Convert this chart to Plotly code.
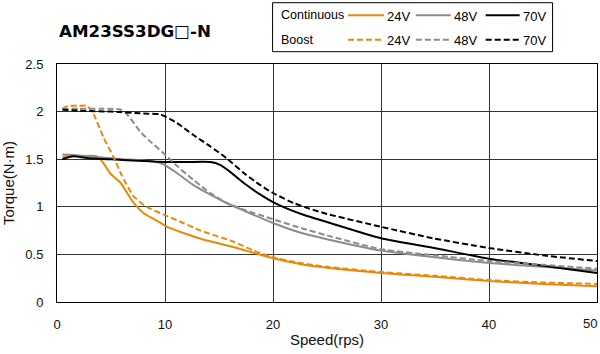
import plotly.graph_objects as go

# ---- data ----
x_24c = [0.5, 1, 2, 3, 3.7, 4.3, 4.9, 5.9, 6.5, 7.1, 8.0, 9.3, 10.2, 11.7, 13.3, 16.3, 20, 22.5, 25, 30, 35, 40, 45, 50]
y_24c = [1.52, 1.53, 1.53, 1.535, 1.53, 1.46, 1.355, 1.25, 1.145, 1.04, 0.935, 0.85, 0.79, 0.725, 0.665, 0.578, 0.46, 0.40, 0.36, 0.305, 0.265, 0.22, 0.19, 0.165]

x_24b = [0.5, 1, 2, 2.8, 3.4, 4.3, 5.25, 6.0, 7.1, 8.3, 9.9, 11.7, 13.3, 16.3, 18.2, 20, 22.5, 25, 30, 35, 40, 45, 50]
y_24b = [2.03, 2.06, 2.06, 2.06, 1.97, 1.73, 1.52, 1.33, 1.11, 1.0, 0.917, 0.83, 0.75, 0.635, 0.54, 0.47, 0.41, 0.37, 0.315, 0.275, 0.23, 0.205, 0.19]

x_48c = [0.5, 2, 4, 6, 7.7, 9.6, 11.1, 12.6, 14.2, 15.7, 17.3, 20, 22.5, 25, 30, 35, 40, 45, 50]
y_48c = [1.55, 1.54, 1.52, 1.50, 1.49, 1.46, 1.355, 1.23, 1.127, 1.04, 0.96, 0.83, 0.73, 0.66, 0.54, 0.47, 0.41, 0.37, 0.33]

x_48b = [0.5, 2, 4, 5.9, 6.5, 7.7, 8.6, 9.9, 11.1, 12.6, 14.2, 15.7, 17.3, 20, 22.5, 25, 30, 35, 40, 45, 50]
y_48b = [2.03, 2.03, 2.03, 2.02, 1.97, 1.79, 1.69, 1.56, 1.43, 1.285, 1.145, 1.04, 0.97, 0.87, 0.78, 0.70, 0.555, 0.49, 0.43, 0.39, 0.35]

x_70c = [0.5, 1.5, 3, 5, 8, 10, 12, 14.2, 15.1, 16, 17.3, 18.8, 20, 21.9, 23.4, 25, 30, 34.8, 40, 45, 50]
y_70c = [1.50, 1.53, 1.51, 1.50, 1.48, 1.47, 1.47, 1.47, 1.44, 1.37, 1.25, 1.13, 1.05, 0.955, 0.895, 0.84, 0.67, 0.57, 0.455, 0.38, 0.305]

x_70b = [0.5, 2, 5, 8, 9.6, 11.1, 12.6, 14.2, 15.7, 17.3, 18.8, 20, 21.9, 23.4, 25, 30, 34.8, 40, 45, 50]
y_70b = [2.02, 2.01, 2.0, 1.98, 1.97, 1.88, 1.757, 1.634, 1.51, 1.355, 1.23, 1.145, 1.04, 0.98, 0.925, 0.79, 0.67, 0.567, 0.49, 0.43]

x_ticks = [0, 10, 20, 30, 40, 50]
y_ticks = [0, 0.5, 1, 1.5, 2, 2.5]
voltages = ["24V", "48V", "70V"]
title_text = "AM23SS3DG\u25a1-N"

ORANGE = "#E8890C"
GRAY = "#8C8C8C"
BLACK = "#000000"
FONT = "Liberation Sans, Arial, sans-serif"
DASH = "6px,3px"

series = [
    (x_24c, y_24c, ORANGE, "solid", "24V Continuous"),
    (x_48c, y_48c, GRAY, "solid", "48V Continuous"),
    (x_70c, y_70c, BLACK, "solid", "70V Continuous"),
    (x_24b, y_24b, ORANGE, DASH, "24V Boost"),
    (x_48b, y_48b, GRAY, DASH, "48V Boost"),
    (x_70b, y_70b, BLACK, DASH, "70V Boost"),
]

fig = go.Figure()
for xs, ys, col, dash, name in series:
    fig.add_trace(go.Scatter(x=xs, y=ys, mode="lines", name=name,
                             line=dict(color=col, width=2, dash=dash, shape="spline", smoothing=0.6),
                             showlegend=False))

W, H = 600, 354
L, R, T, B = 56.5, 597.5, 64.3, 302.3


def px(xp):
    return (xp - L) / (R - L)


def py(yp):
    return (B - yp) / (B - T)


shapes = []
annotations = []
# legend box
shapes.append(dict(type="rect", xref="paper", yref="paper", x0=px(272.5), x1=px(553), y0=py(52), y1=py(3),
                   line=dict(color="#000000", width=1), fillcolor="white"))
rows = [("Continuous", 15.5, "solid"), ("Boost", 40, DASH)]
cols = [(348, 384, ORANGE), (416, 451, GRAY), (486, 520, BLACK)]
for label, yy, dash in rows:
    annotations.append(dict(text=label, xref="paper", yref="paper", x=px(279), y=py(yy), xanchor="left",
                            yanchor="middle", showarrow=False, font=dict(family=FONT, size=12.5, color="#000")))
    for (a, b, c), v in zip(cols, voltages):
        shapes.append(dict(type="line", xref="paper", yref="paper", x0=px(a), x1=px(b), y0=py(yy), y1=py(yy),
                           line=dict(color=c, width=2, dash=dash)))
        annotations.append(dict(text=v, xref="paper", yref="paper", x=px(b + 1), y=py(yy + 1), xanchor="left",
                                yanchor="middle", showarrow=False, font=dict(family=FONT, size=13, color="#000")))

annotations.append(dict(text="<b>" + title_text + "</b>", xref="paper", yref="paper", x=px(56), y=py(31),
                        xanchor="left", yanchor="middle", showarrow=False,
                        font=dict(family="DejaVu Sans, sans-serif", size=16.7, color="#000")))

# last x tick label sits inside the right edge in the reference
x_ticktext = [str(v) for v in x_ticks[:-1]] + [""]
annotations.append(dict(text=str(x_ticks[-1]), xref="x", yref="paper", x=x_ticks[-1], y=py(324),
                        xanchor="right", yanchor="middle", xshift=2, showarrow=False,
                        font=dict(family=FONT, size=13, color="#111")))

fig.update_layout(
    width=W, height=H,
    margin=dict(l=L, r=W - R, t=T, b=H - B, pad=0),
    paper_bgcolor="white", plot_bgcolor="white",
    font=dict(family=FONT, size=13, color="#111"),
    shapes=shapes, annotations=annotations,
    showlegend=False,
)
fig.update_xaxes(range=[0, 50], tickvals=x_ticks, ticktext=x_ticktext, showgrid=True, gridcolor="#333", gridwidth=1,
                 showline=True, linecolor="#000", linewidth=1, mirror=True, zeroline=False,
                 ticks="", ticklabelstandoff=10,
                 title=dict(text="Speed(rps)", font=dict(size=15), standoff=3))
fig.update_yaxes(range=[0, 2.5], tickvals=y_ticks, showgrid=True, gridcolor="#333", gridwidth=1,
                 showline=True, linecolor="#000", linewidth=1, mirror=True, zeroline=False,
                 ticks="", ticklabelstandoff=10,
                 title=dict(text="Torque(N·m)", font=dict(size=15), standoff=7))

fig.write_html("out.html")
